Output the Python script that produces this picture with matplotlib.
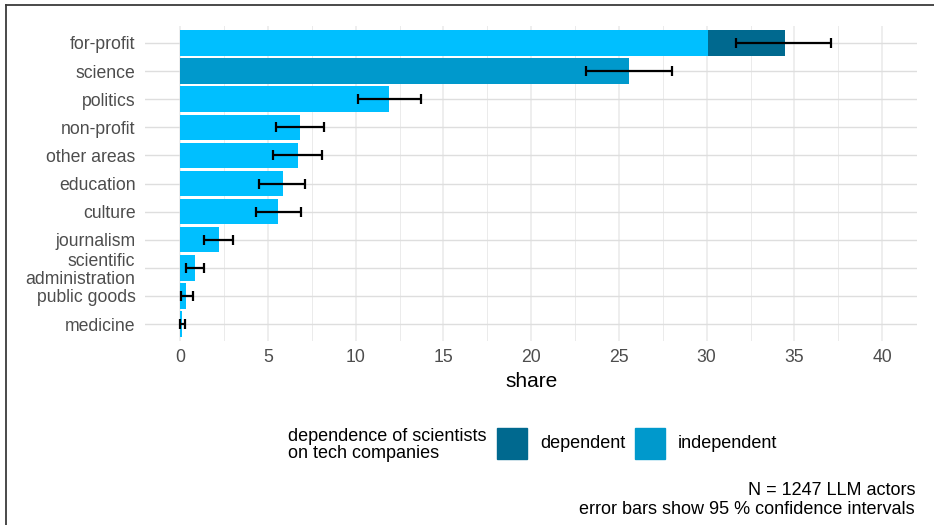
import matplotlib
matplotlib.use("Agg")
import matplotlib.pyplot as plt
from matplotlib.patches import Rectangle
from matplotlib.lines import Line2D
import numpy as np

plt.rcParams['font.family'] = ['Liberation Sans', 'DejaVu Sans']

# Share of LLM actors per area, split by dependence on tech companies
categories = ["for-profit", "science", "politics", "non-profit", "other areas",
              "education", "culture", "journalism", "scientific\nadministration",
              "public goods", "medicine"]
independent = [30.1, 25.55, 11.9, 6.85, 6.7, 5.83, 5.56, 2.19, 0.82, 0.34, 0.11]
dependent = [4.35, 0, 0, 0, 0, 0, 0, 0, 0, 0, 0]
ci_low = [31.7, 23.13, 10.1, 5.45, 5.3, 4.51, 4.3, 1.37, 0.33, 0.02, 0.0]
ci_high = [37.1, 28.0, 13.7, 8.2, 8.05, 7.1, 6.87, 2.99, 1.35, 0.7, 0.27]
x_ticks = [0, 5, 10, 15, 20, 25, 30, 35, 40]

W, H = 934, 525
col_light = "#00BFFF"
col_indep = "#0099CC"
col_dep = "#00698F"
fill_override = {"science": col_indep}

fig = plt.figure(figsize=(W / 100, H / 100), dpi=100)
ax = fig.add_axes([145.2 / W, 1 - 341 / H, 772 / W, 315 / H])

pos = np.arange(len(categories))
indep = np.array(independent)
dep = np.array(dependent)
total = indep + dep
fills = [fill_override.get(c, col_light) for c in categories]

ax.barh(pos, indep, height=0.9, color=fills, zorder=2)
ax.barh(pos, dep, left=indep, height=0.9, color=col_dep, zorder=2)
ax.errorbar(total, pos, xerr=[total - np.array(ci_low), np.array(ci_high) - total],
            fmt="none", ecolor="black", elinewidth=1.6, capsize=3.5, capthick=1.6,
            zorder=3)

ax.set_xlim(-2, 42)
ax.set_ylim(len(categories) - 0.4, -0.6)
ax.set_xticks(x_ticks)
ax.set_xticks(np.arange(2.5, 42, 5), minor=True)
ax.set_yticks(pos)
ax.set_yticklabels(categories, linespacing=1.1)

ax.grid(axis="x", which="major", color="#EBEBEB", linewidth=1.2, zorder=0)
ax.grid(axis="x", which="minor", color="#EBEBEB", linewidth=0.7, zorder=0)
ax.grid(axis="y", which="major", color="#DEDEDE", linewidth=1.0, zorder=0)
ax.set_axisbelow(True)
for s in ax.spines.values():
    s.set_visible(False)
ax.tick_params(axis="both", which="both", length=0, labelsize=12.7,
               labelcolor="#4D4D4D")
ax.tick_params(axis="x", pad=6)
ax.tick_params(axis="y", pad=7)

ax.set_xlabel("share", fontsize=15, color="black", va="center")
ax.xaxis.set_label_coords(0.5, -0.127)

# legend, laid out horizontally with the title to the left of the keys
def fx(px):
    return px / W

def fy(py):
    return 1 - py / H

fig.text(fx(288), fy(445), "dependence of scientists\non tech companies",
         ha="left", va="center", fontsize=13, linespacing=1.05)
for x0, col, lab, tx in [(497, col_dep, "dependent", 540),
                         (635, col_indep, "independent", 678)]:
    fig.patches.append(Rectangle((fx(x0), fy(459)), 30 / W, 31 / H,
                                 transform=fig.transFigure, color=col))
    fig.text(fx(tx), fy(444), lab, ha="left", va="center", fontsize=13)

fig.text(fx(915), fy(500), "N = 1247 LLM actors\nerror bars show 95 % confidence intervals",
         ha="right", va="center", multialignment="right", fontsize=13,
         linespacing=1.1)

# outer frame (top and left edges)
fig.add_artist(Line2D([fx(5.5), 1.0], [fy(4.5), fy(4.5)], transform=fig.transFigure,
                      color="#3A3A3A", linewidth=1.3))
fig.add_artist(Line2D([fx(5.5), fx(5.5)], [fy(4.5), 0.0], transform=fig.transFigure,
                      color="#3A3A3A", linewidth=1.3))

fig.savefig("out.png", dpi=100, facecolor="white")
